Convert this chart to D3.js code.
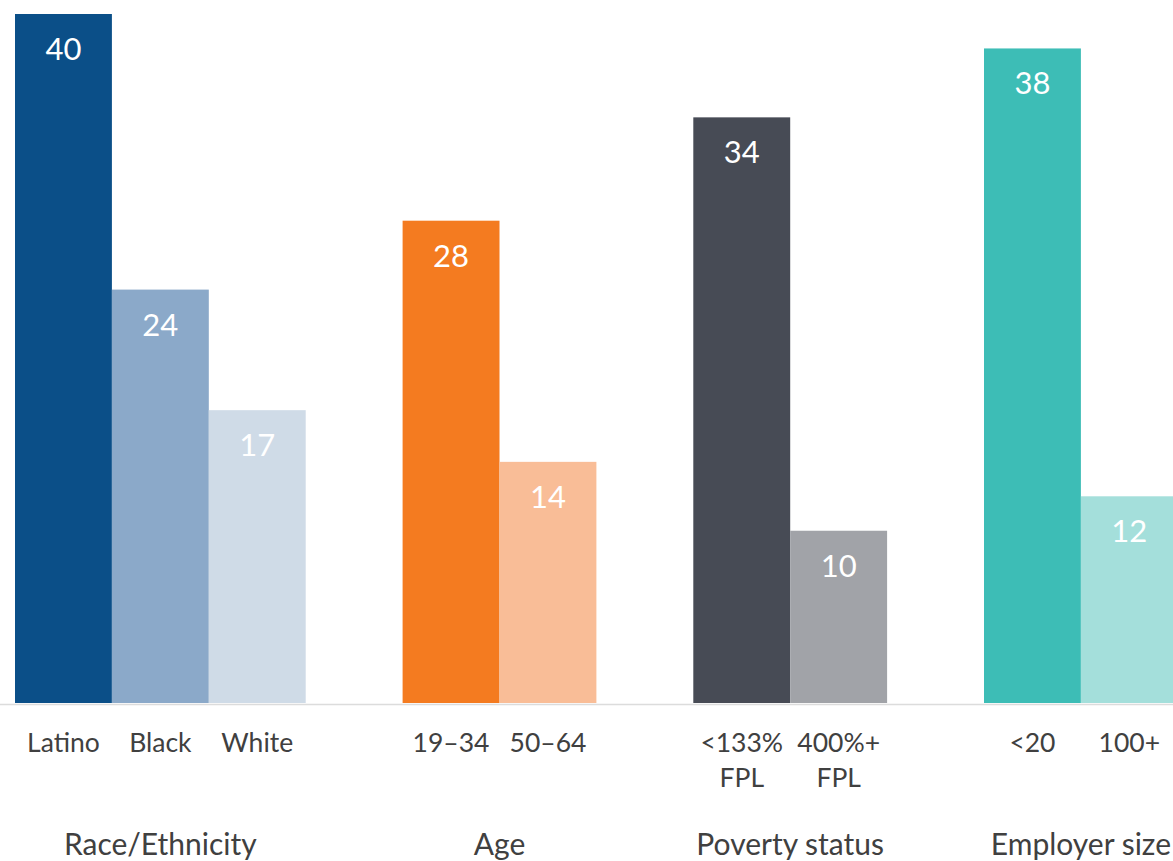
<!DOCTYPE html>
<html>
<head>
<meta charset="utf-8">
<script src="https://cdn.jsdelivr.net/npm/d3@7"></script>
<style>
  html, body { margin: 0; padding: 0; background: #fff; }
  svg { display: block; font-family: Lato, "Open Sans", sans-serif; }
</style>
</head>
<body>
<div id="chart"></div>
<script>
// data
const groups = ["Race/Ethnicity", "Age", "Poverty status", "Employer size"]
const categories = [
  ["Latino", "Black", "White"],
  ["19–34", "50–64"],
  ["<133% FPL", "400%+ FPL"],
  ["<20", "100+"]
]
const values = [
  [40, 24, 17],
  [28, 14],
  [34, 10],
  [38, 12]
]
const colors = [
  ["#0b4f88", "#8ba9c9", "#cfdbe7"],
  ["#f47b20", "#f9bd97"],
  ["#474b55", "#a1a3a8"],
  ["#3dbdb6", "#a4dfdb"]
]

const width = 1173
const height = 861

// one slot per bar, plus an empty slot between groups
const slots = []
const bars = []
groups.forEach((g, gi) => {
  if (gi > 0) slots.push("gap" + gi)
  categories[gi].forEach((c, ci) => {
    const key = g + "|" + c
    slots.push(key)
    bars.push({group: g, gi: gi, label: c, value: values[gi][ci], color: colors[gi][ci], key: key})
  })
})

const x = d3.scaleBand()
  .domain(slots)
  .range([15, 15 + slots.length * 96.9])
  .padding(0)

const y = d3.scaleLinear()
  .domain([0, 40])
  .range([703, 14])

const svg = d3.select("#chart").append("svg")
  .attr("width", width)
  .attr("height", height)

// baseline
svg.append("line")
  .attr("x1", 0)
  .attr("x2", width)
  .attr("y1", y(0) + 1.5)
  .attr("y2", y(0) + 1.5)
  .attr("stroke", "#dcdcdc")
  .attr("stroke-width", 1.5)

svg.append("g")
  .selectAll("rect")
  .data(bars)
  .enter()
  .append("rect")
  .attr("x", d => x(d.key))
  .attr("y", d => y(d.value))
  .attr("width", x.bandwidth())
  .attr("height", d => y(0) - y(d.value))
  .attr("fill", d => d.color)

// value labels
svg.append("g")
  .selectAll("text")
  .data(bars)
  .enter()
  .append("text")
  .attr("x", d => x(d.key) + x.bandwidth() / 2)
  .attr("y", d => y(d.value) + 46)
  .attr("text-anchor", "middle")
  .attr("fill", "#fff")
  .attr("font-size", 31)
  .text(d => d.value)

// category labels (split on space before FPL)
const ticks = svg.append("g")
  .selectAll("text")
  .data(bars)
  .enter()
  .append("text")
  .attr("x", d => x(d.key) + x.bandwidth() / 2)
  .attr("y", 752)
  .attr("text-anchor", "middle")
  .attr("fill", "#404040")
  .attr("font-size", 26.5)

ticks.each(function(d) {
  const parts = d.label.split(" ")
  const t = d3.select(this)
  parts.forEach((p, i) => {
    t.append("tspan")
      .attr("x", x(d.key) + x.bandwidth() / 2)
      .attr("dy", i === 0 ? 0 : 35)
      .text(p)
  })
})

// group labels
svg.append("g")
  .selectAll("text")
  .data(groups)
  .enter()
  .append("text")
  .attr("x", (g, gi) => {
    const ks = bars.filter(b => b.gi === gi)
    return (x(ks[0].key) + x(ks[ks.length - 1].key) + x.bandwidth()) / 2
  })
  .attr("y", 855)
  .attr("text-anchor", "middle")
  .attr("fill", "#404040")
  .attr("font-size", 30)
  .text(g => g)
</script>
</body>
</html>
